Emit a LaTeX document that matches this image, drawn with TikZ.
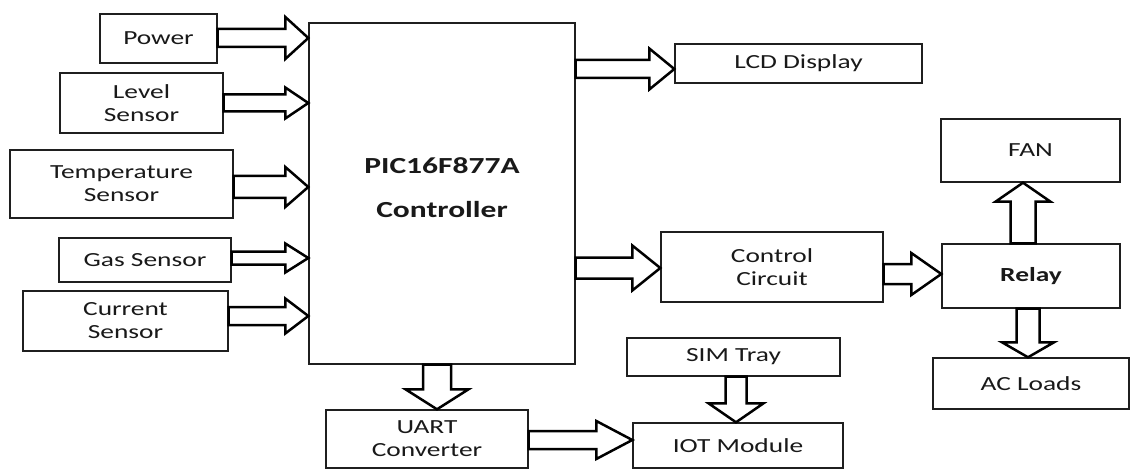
\documentclass[tikz,border=0pt]{standalone}
\usepackage{fontspec}
\setmainfont{Carlito}[FakeStretch=1.37]
\usetikzlibrary{calc}
\tikzset{
  box/.style={draw=black!88, line width=1.4pt, fill=white, align=center, inner sep=0pt,
    font=\fontsize{20}{23}\selectfont, text=black!90},
  bigbold/.style={font=\fontsize{23}{44}\selectfont\bfseries, text depth=12pt},
  barrow/.style={draw=black, line width=2.5pt, fill=white, line join=miter},
}
% box: name, x1, y1, x2, y2 (pixels, y downward), options, text
\newcommand\bx[7]{\node[box,#6, minimum width={#4-#2}, minimum height={#5-#3}] (#1) at ({(#2+#4)/2},{-(#3+#5)/2}) {#7};}
% horizontal block arrow to the right: from, to, y, shaft half, head half, head length
\newcommand\harr[6]{\draw[barrow] let \p1=(#1), \p2=(#2) in
  (\x1,{#3+#4}) -- ({\x2-#6},{#3+#4}) -- ({\x2-#6},{#3+#5}) -- (\x2,#3) --
  ({\x2-#6},{#3-#5}) -- ({\x2-#6},{#3-#4}) -- (\x1,{#3-#4}) -- cycle;}
% downward block arrow: from, to, x, shaft half, head half, head length
\newcommand\darr[6]{\draw[barrow] let \p1=(#1), \p2=(#2) in
  ({#3-#4},\y1) -- ({#3-#4},{\y2+#6}) -- ({#3-#5},{\y2+#6}) -- (#3,\y2) --
  ({#3+#5},{\y2+#6}) -- ({#3+#4},{\y2+#6}) -- ({#3+#4},\y1) -- cycle;}
% upward block arrow
\newcommand\uarr[6]{\draw[barrow] let \p1=(#1), \p2=(#2) in
  ({#3-#4},\y1) -- ({#3-#4},{\y2-#6}) -- ({#3-#5},{\y2-#6}) -- (#3,\y2) --
  ({#3+#5},{\y2-#6}) -- ({#3+#4},{\y2-#6}) -- ({#3+#4},\y1) -- cycle;}
\begin{document}
\begin{tikzpicture}[x=1pt,y=1pt]
\fill[white] (0,0) rectangle (1131,-470);
\useasboundingbox (0,0) rectangle (1131,-470);

\bx{power}{100}{14}{217}{63}{}{Power}
\bx{level}{60}{73}{223}{133}{}{Level\\Sensor}
\bx{temp}{10}{150}{233}{218}{}{Temperature\\Sensor}
\bx{gas}{59}{238}{231}{282}{}{Gas Sensor}
\bx{current}{23}{291}{228}{351}{}{Current\\Sensor}
\bx{ctrl}{309}{23}{575}{364}{bigbold}{PIC16F877A\\Controller}
\bx{lcd}{675}{44}{922}{83}{}{LCD Display}
\bx{fan}{941}{119}{1120}{182}{}{FAN}
\bx{control}{661}{232}{883}{302}{}{Control\\Circuit}
\bx{relay}{942}{244}{1120}{308}{font=\fontsize{20}{23}\selectfont\bfseries}{Relay}
\bx{ac}{933}{358}{1129}{409}{}{AC Loads}
\bx{sim}{627}{338}{840}{376}{}{SIM Tray}
\bx{iot}{633}{423}{843}{468}{}{IOT Module}
\bx{uart}{326}{410}{528}{468}{}{UART\\Converter}

\harr{power.east}{ctrl.west}{-38}{9}{21}{23}
\harr{level.east}{ctrl.west}{-103}{8.5}{15.5}{23}
\harr{temp.east}{ctrl.west}{-187}{11}{20}{23}
\harr{gas.east}{ctrl.west}{-258}{6.5}{14.5}{23}
\harr{current.east}{ctrl.west}{-316}{9}{17.5}{23}
\harr{ctrl.east}{lcd.west}{-69}{9}{20.5}{25}
\harr{ctrl.east}{control.west}{-268}{10.5}{22.5}{28}
\harr{control.east}{relay.west}{-274}{10}{21}{30}
\uarr{relay.north}{fan.south}{1023}{12.5}{27.5}{19}
\darr{relay.south}{ac.north}{1028}{11.5}{26}{15}
\darr{sim.south}{iot.north}{736}{10.5}{27.5}{19}
\darr{ctrl.south}{uart.north}{437}{14}{31.5}{20}
\harr{uart.east}{iot.west}{-440}{9}{19}{36}
\end{tikzpicture}
\end{document}
